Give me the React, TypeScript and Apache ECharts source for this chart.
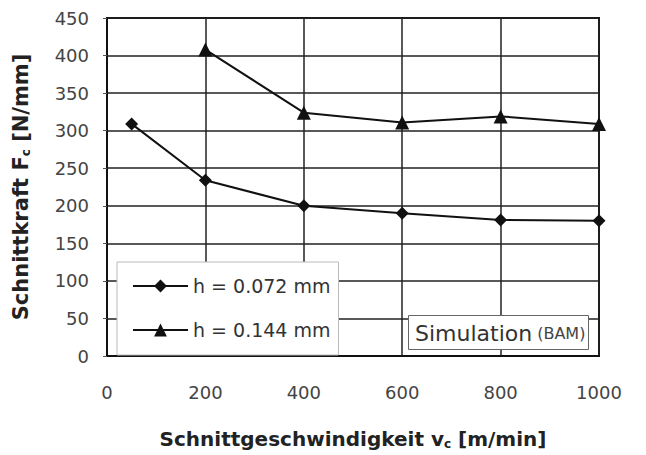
import React, { useEffect, useRef } from "react";
import * as echarts from "echarts";

const xTicks = [0, 200, 400, 600, 800, 1000];
const speedSmall = [50, 200, 400, 600, 800, 1000];
const forceSmall = [309, 234, 200, 190, 181, 180];
const speedLarge = [200, 400, 600, 800, 1000];
const forceLarge = [408, 324, 311, 319, 309];
const seriesNames = ["h = 0.072 mm", "h = 0.144 mm"];

const FONT = "DejaVu Sans, Verdana, sans-serif";

export default function App() {
  const ref = useRef<HTMLDivElement>(null);
  useEffect(() => {
    if (!ref.current) return;
    const chart = echarts.init(ref.current, null, { renderer: "svg" });
    chart.setOption({
      animation: false,
      backgroundColor: "#fff",
      grid: {
        left: 107,
        right: 47,
        top: 18,
        bottom: 98,
        show: true,
        borderColor: "#111",
        borderWidth: 2,
        backgroundColor: "transparent",
      },
      xAxis: {
        type: "value",
        min: xTicks[0],
        max: xTicks[xTicks.length - 1],
        interval: 200,
        axisLine: { show: true, lineStyle: { color: "#111", width: 2 } },
        axisTick: { show: false },
        splitLine: { show: true, lineStyle: { color: "#222", width: 1.5 } },
        axisLabel: {
          color: "#444",
          fontFamily: FONT,
          fontSize: 18,
          margin: 27,
          formatter: (v: number) => String(v),
        },
        name: "{b|Schnittgeschwindigkeit v}{s|c}{b| [m/min]}",
        nameLocation: "middle",
        nameGap: 72,
        nameTextStyle: {
          rich: {
            b: { fontFamily: FONT, fontWeight: "bold", fontSize: 20, color: "#222" },
            s: { fontFamily: FONT, fontWeight: "bold", fontSize: 12, color: "#222", padding: [10, 0, 0, 0] },
          },
        },
      },
      yAxis: {
        type: "value",
        min: 0,
        max: 450,
        interval: 50,
        axisLine: { show: true, lineStyle: { color: "#111", width: 2 } },
        axisTick: { show: true, length: 4, lineStyle: { color: "#555" } },
        splitLine: { show: true, lineStyle: { color: "#222", width: 1.5 } },
        axisLabel: { color: "#444", fontFamily: FONT, fontSize: 18, margin: 18 },
        name: "{b|Schnittkraft F}{s|c}{b| [N/mm]}",
        nameLocation: "middle",
        nameRotate: 90,
        nameGap: 75,
        nameTextStyle: {
          rich: {
            b: { fontFamily: FONT, fontWeight: "bold", fontSize: 21, color: "#222" },
            s: { fontFamily: FONT, fontWeight: "bold", fontSize: 12, color: "#222", padding: [10, 0, 0, 0] },
          },
        },
      },
      legend: {
        orient: "vertical",
        left: 117,
        top: 262,
        itemWidth: 55,
        itemHeight: 16,
        itemGap: 24,
        padding: [14, 8, 15, 15],
        backgroundColor: "#fff",
        borderColor: "#bbb",
        borderWidth: 1,
        textStyle: { fontFamily: FONT, fontSize: 19, lineHeight: 20, color: "#333" },
        data: seriesNames,
        z: 5,
      },
      title: {
        left: 408,
        top: 313,
        padding: [7, 3, 6, 7],
        backgroundColor: "#fff",
        borderColor: "#666",
        borderWidth: 1,
        text: "{a|Simulation} {b|(BAM)}",
        textStyle: {
          fontWeight: "normal",
          rich: {
            a: { fontFamily: FONT, fontWeight: "normal", fontSize: 22, lineHeight: 26, color: "#333" },
            b: { fontFamily: FONT, fontWeight: "normal", fontSize: 16, lineHeight: 26, color: "#444" },
          },
        },
        z: 6,
      },
      series: [
        {
          name: seriesNames[0],
          type: "line",
          data: speedSmall.map((v, i) => [v, forceSmall[i]]),
          symbol: "diamond",
          symbolSize: 13,
          lineStyle: { color: "#111", width: 2 },
          itemStyle: { color: "#111" },
          z: 3,
        },
        {
          name: seriesNames[1],
          type: "line",
          data: speedLarge.map((v, i) => [v, forceLarge[i]]),
          symbol: "triangle",
          symbolSize: 14,
          lineStyle: { color: "#111", width: 2 },
          itemStyle: { color: "#111" },
          z: 3,
        },
      ],
    });
    return () => chart.dispose();
  }, []);
  return <div ref={ref} style={{ width: 646, height: 455, position: "absolute", left: 0, top: 0 }} />;
}
